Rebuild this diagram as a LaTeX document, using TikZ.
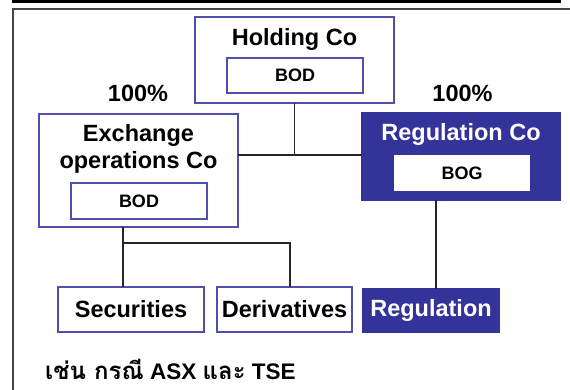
\documentclass[tikz,border=0pt]{standalone}
\usepackage{fontspec}
\setmainfont{Liberation Sans}
\newfontfamily\thaifont[Script=Thai]{Loma}
\definecolor{boxblue}{RGB}{80,80,170}
\definecolor{regblue}{RGB}{51,51,153}
\definecolor{framegray}{RGB}{70,70,70}
\begin{document}
\begin{tikzpicture}[x=1pt,y=-1pt,
  box/.style={draw=boxblue, line width=1.3pt, fill=white, inner sep=0pt, outer sep=0pt},
  fbox/.style={draw=regblue, line width=1.3pt, fill=regblue, inner sep=0pt, outer sep=0pt},
  wbox/.style={fill=white, inner sep=0pt, outer sep=0pt},
  big/.style={font=\bfseries\fontsize{23.5}{27}\selectfont, inner sep=0pt},
  small/.style={font=\bfseries\fontsize{18}{21}\selectfont, inner sep=0pt},
  conn/.style={draw=black!85, line width=1.2pt}]
\useasboundingbox (0,0) rectangle (570,390);
% frame
\fill[black] (12,0) rectangle (561,3);
\draw[framegray, line width=1.3pt] (13,390) -- (13,9) -- (570,9);
% holding
\node[box, minimum width=199, minimum height=86] (hold) at (294.5,60) {};
\node[big] (holdt) at (294.5,39) {Holding Co};
\node[box, minimum width=136, minimum height=35, small] (holdb) at (295,75.5) {BOD};
% percentages
\node[big] (p1) at (138,93) {100\%};
\node[big] (p2) at (462.5,93) {100\%};
% exchange
\node[box, minimum width=199, minimum height=113] (exch) at (138.5,170.5) {};
\node[big, align=center] (excht) at (138.5,149) {Exchange\\operations Co};
\node[box, minimum width=136, minimum height=36, small] (exchb) at (139,201) {BOD};
% regulation co
\node[fbox, minimum width=198, minimum height=87] (regco) at (461,156.5) {};
\node[big, text=white] (regcot) at (461,134) {Regulation Co};
\node[wbox, minimum width=136, minimum height=36, small] (regcob) at (462,173) {BOG};
% bottom row
\node[box, minimum width=146, minimum height=45, big] (sec) at (131,309.5) {Securities};
\node[box, minimum width=135, minimum height=45, big] (der) at (284.5,309.5) {Derivatives};
\node[fbox, minimum width=136, minimum height=43, big, text=white] (regb) at (431,310.5) {Regulation};
% connectors
\coordinate (j1) at (294.5,155);
\coordinate (j2) at (123,243);
\coordinate (j3) at (290,243);
\coordinate (j4) at (436,250);
\draw[conn] (hold.south) -- (j1);
\draw[conn] (exch.east |- j1) -- (regco.west |- j1);
\draw[conn] (j2 |- exch.south) -- (j2 |- sec.north);
\draw[conn] (j2) -- (j3) -- (j3 |- der.north);
\draw[conn] (j4 |- regco.south) -- (j4 |- regb.north);
% caption
\node[anchor=base west, inner sep=0pt, font=\bfseries\fontsize{22.5}{26}\selectfont] (cap) at (45,379) {{\thaifont\fontsize{24}{28}\selectfont เช่น กรณี} ASX {\thaifont\fontsize{24}{28}\selectfont และ} TSE};
\end{tikzpicture}
\end{document}
